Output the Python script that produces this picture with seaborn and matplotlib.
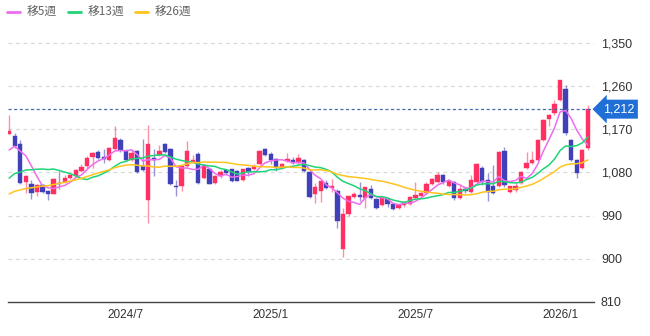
import numpy as np
import pandas as pd
import matplotlib
matplotlib.use("Agg")
import matplotlib.pyplot as plt
import matplotlib.transforms as mtransforms
from matplotlib.ticker import FuncFormatter
import seaborn as sns

# ---------------- data (weekly candles) ----------------
weeks = pd.date_range("2024-02-05", periods=105, freq="W-MON")

opens = [1161, 1157, 1139, 1060, 1056, 1040, 1054, 1042, 1036, 1059,
         1061, 1068, 1072, 1083, 1094, 1113, 1122, 1113, 1106, 1128,
         1148, 1124, 1106, 1124, 1094, 1022, 1110, 1117, 1139, 1128,
         1052, 1051, 1094, 1102, 1119, 1068, 1088, 1058, 1072, 1085,
         1087, 1083, 1065, 1090, 1087, 1098, 1128, 1119, 1109, 1090,
         1104, 1107, 1100, 1107, 1081, 1036, 1042, 1058, 1047, 1042,
         920, 993, 1029, 1034, 1027, 1045, 1025, 1012, 1025, 1015,
         1005, 1013, 1015, 1027, 1032, 1038, 1056, 1060, 1075, 1051,
         1060, 1027, 1046, 1040, 1061, 1090, 1064, 1051, 1052, 1124,
         1039, 1044, 1058, 1089, 1099, 1105, 1148, 1191, 1203, 1232,
         1255, 1147, 1106, 1089, 1131]
highs = [1200, 1162, 1147, 1074, 1064, 1056, 1057, 1044, 1068, 1083,
         1074, 1077, 1088, 1097, 1114, 1123, 1126, 1128, 1133, 1177,
         1152, 1129, 1126, 1127, 1150, 1179, 1129, 1138, 1141, 1130,
         1064, 1096, 1145, 1117, 1122, 1097, 1090, 1074, 1085, 1087,
         1088, 1086, 1088, 1092, 1098, 1126, 1130, 1122, 1111, 1099,
         1121, 1113, 1118, 1109, 1083, 1059, 1063, 1064, 1066, 1045,
         1005, 1032, 1040, 1060, 1050, 1053, 1027, 1029, 1027, 1017,
         1014, 1020, 1031, 1060, 1040, 1060, 1068, 1081, 1076, 1066,
         1063, 1054, 1052, 1075, 1100, 1093, 1078, 1096, 1124, 1134,
         1051, 1060, 1084, 1122, 1124, 1150, 1191, 1202, 1232, 1273,
         1262, 1150, 1108, 1128, 1221]
lows = [1160, 1132, 1056, 1037, 1025, 1032, 1038, 1022, 1035, 1045,
        1058, 1066, 1070, 1081, 1090, 1090, 1108, 1100, 1104, 1126,
        1123, 1105, 1104, 1079, 1083, 975, 1072, 1115, 1120, 1054,
        1031, 1042, 1092, 1100, 1056, 1066, 1055, 1056, 1068, 1074,
        1060, 1062, 1063, 1072, 1085, 1096, 1114, 1098, 1084, 1088,
        1102, 1098, 1098, 1080, 1027, 1017, 1019, 1045, 1040, 964,
        904, 990, 1027, 1020, 1005, 1025, 1004, 1010, 1008, 1002,
        1003, 1008, 1013, 1025, 1030, 1036, 1054, 1058, 1057, 1049,
        1023, 1025, 1038, 1038, 1058, 1054, 1020, 1035, 1050, 1050,
        1038, 1040, 1055, 1087, 1097, 1103, 1146, 1176, 1200, 1230,
        1158, 1104, 1068, 1087, 1127]
closes = [1166, 1135, 1058, 1073, 1037, 1054, 1040, 1036, 1066, 1055,
          1068, 1074, 1085, 1092, 1111, 1121, 1111, 1109, 1131, 1152,
          1126, 1107, 1121, 1081, 1085, 1139, 1107, 1124, 1122, 1056,
          1050, 1094, 1124, 1107, 1059, 1094, 1057, 1072, 1080, 1079,
          1063, 1063, 1087, 1080, 1094, 1124, 1116, 1107, 1089, 1097,
          1109, 1100, 1110, 1083, 1029, 1049, 1063, 1047, 1051, 978,
          993, 1030, 1036, 1029, 1049, 1027, 1006, 1027, 1015, 1004,
          1013, 1019, 1029, 1034, 1038, 1056, 1066, 1075, 1060, 1063,
          1027, 1046, 1041, 1064, 1098, 1061, 1040, 1038, 1122, 1054,
          1051, 1052, 1082, 1099, 1105, 1148, 1189, 1200, 1222, 1272,
          1163, 1106, 1079, 1127, 1212]
# closes of the 25 weeks before the first visible candle (estimated from the
# starting levels of the moving averages; used only to warm them up)
pre_closes = [990, 985, 995, 1000, 1005, 998, 1010, 1003, 995, 1008, 1012, 1010, 1019,
              1010, 1020, 1015, 1030, 1040, 1035, 1050, 1052,
              1095, 1110, 1120, 1143]

ma_windows = [5, 13, 26]
ma_labels = ["移5週", "移13週", "移26週"]
ma_colors = ["#ee6cee", "#1ed477", "#ffc41f"]
y_ticks = [810, 900, 990, 1080, 1170, 1260, 1350]
x_tick_dates = ["2024-07-01", "2024-12-30", "2025-06-30", "2025-12-29"]
x_tick_labels = ["2024/7", "2025/1", "2025/7", "2026/1"]
last_price = 1212

up_color = "#ff3162"
down_color = "#4040b8"

# ---------------- frame ----------------
df = pd.DataFrame({"i": np.arange(len(weeks)), "week": weeks,
                   "open": opens, "high": highs, "low": lows, "close": closes})
full = pd.Series(pre_closes + closes, dtype=float)
for w in ma_windows:
    df[f"ma{w}"] = full.rolling(w).mean().iloc[len(pre_closes):].to_numpy()

sns.set_theme(style="white")
plt.rcParams["font.family"] = ["Liberation Sans", "Noto Sans CJK JP", "DejaVu Sans"]

W, H = 650, 336
fig = plt.figure(figsize=(W / 100, H / 100), dpi=100)
ax = fig.add_axes([8 / W, (H - 302) / H, (594 - 8) / W, (302 - 30) / H])

# grid
for yv in y_ticks[1:]:
    ax.axhline(yv, color="#d9d9d9", lw=0.9, ls=(0, (3, 3)), zorder=0)

# candles
up = df["close"] >= df["open"]
cols = np.where(up, up_color, down_color)
ax.vlines(df["i"], df["low"], df["high"], colors=cols, lw=1.0, alpha=0.55, zorder=2)
body_low = np.minimum(df["open"], df["close"])
body_h = np.maximum(np.abs(df["close"] - df["open"]), 1.5)
ax.bar(df["i"], body_h, bottom=body_low, width=0.78, color=cols,
       edgecolor=cols, linewidth=0.3, zorder=3)

# moving averages
for w, lab, c in zip(ma_windows, ma_labels, ma_colors):
    sns.lineplot(data=df, x="i", y=f"ma{w}", color=c, lw=1.1, label=lab, ax=ax, zorder=4)

# current price line + label
ax.axhline(last_price, color="#4a6aa8", lw=0.9, ls=(0, (2.5, 2)), zorder=5)
trans = mtransforms.blended_transform_factory(ax.transAxes, ax.transData)
ax.text(1.0 + 9 / (594 - 8), last_price, f"{last_price:,}", transform=trans,
        ha="left", va="center", color="white", fontsize=9,
        bbox=dict(boxstyle="larrow,pad=0.28", fc="#1f6fd6", ec="none"),
        clip_on=False, zorder=6)

# axes
ax.set_xlim(-0.2, 105.1)
ax.set_ylim(810, 1377)
ax.yaxis.tick_right()
ax.set_yticks(y_ticks)
ax.yaxis.set_major_formatter(FuncFormatter(lambda v, p: f"{int(v):,}"))
tick_pos = [int(df.index[df["week"] == pd.Timestamp(d)][0]) for d in x_tick_dates]
ax.set_xticks(tick_pos)
ax.set_xticklabels(x_tick_labels)
ax.tick_params(axis="both", length=0, labelcolor="#333333")
ax.tick_params(axis="y", pad=5, labelsize=9)
ax.tick_params(axis="x", pad=5, labelsize=8.5)
ax.set_xlabel("")
ax.set_ylabel("")
for s in ["top", "left", "right"]:
    ax.spines[s].set_visible(False)
ax.spines["bottom"].set_color("#444444")
ax.spines["bottom"].set_linewidth(1.0)

leg = ax.legend(loc="upper left", bbox_to_anchor=(2 / W, 1 - 1 / H),
                bbox_transform=fig.transFigure, ncol=3, frameon=False,
                handlelength=1.1, handletextpad=0.6, columnspacing=0.9,
                fontsize=8.5, borderaxespad=0)
for t in leg.get_texts():
    t.set_color("#666666")
    t.set_fontfamily(["Noto Sans CJK JP", "DejaVu Sans"])
for l in leg.get_lines():
    l.set_linewidth(2)

fig.savefig("out.png", dpi=100)
